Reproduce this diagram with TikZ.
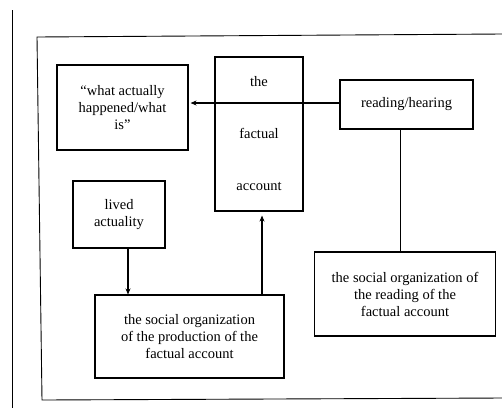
\documentclass[tikz,border=0pt]{standalone}
\usepackage{fontspec}
\setmainfont{Liberation Serif}
\usetikzlibrary{arrows.meta}
\begin{document}
\begin{tikzpicture}[x=1pt,y=-1pt,
  line width=1.1pt,
  box/.style={draw, rectangle, inner sep=0pt, align=center,
    font=\fontsize{14.5}{17}\selectfont},
  arr/.style={-{Stealth[length=6pt,width=5pt]}}]
\useasboundingbox (0,0) rectangle (502,408);
% page rule and frame
\draw[line width=0.9pt] (12,10) -- (12,408);
\draw[line width=0.9pt] (502,34) -- (37,37) -- (42,400) -- (502,398);
% boxes
\node[box, minimum width=131pt, minimum height=85pt] (what) at (122.5,107.5)
  {``what actually\\happened/what\\is''};
\node[box, minimum width=88pt, minimum height=154pt] (fact) at (259,134)
  {the\\[35pt]factual\\[35pt]account};
\node[box, minimum width=133pt, minimum height=49pt] (read) at (406.5,104.5)
  {reading/hearing};
\node[box, minimum width=92pt, minimum height=67pt] (lived) at (119,214.5)
  {lived\\actuality};
\node[box, minimum width=189pt, minimum height=83pt] (prod) at (189.5,336.5)
  {the social organization\\of the production of the\\factual account};
\node[box, minimum width=181pt, minimum height=84pt] (rorg) at (405,294)
  {the social organization of\\the reading of the\\factual account};
% connectors
\draw[arr, shorten >=2pt] ([yshift=1.5pt]read.west) -- ([yshift=1.5pt]read.west -| what.east);
\draw ([xshift=-6pt]read.south) -- ([xshift=-6pt]read.south |- rorg.north);
\draw[arr] ([xshift=9pt]lived.south) -- ([xshift=9pt]lived.south |- prod.north);
\draw[arr, shorten >=4pt] ([xshift=72.5pt]prod.north) -- ([xshift=72.5pt]prod.north |- fact.south);
\end{tikzpicture}
\end{document}
